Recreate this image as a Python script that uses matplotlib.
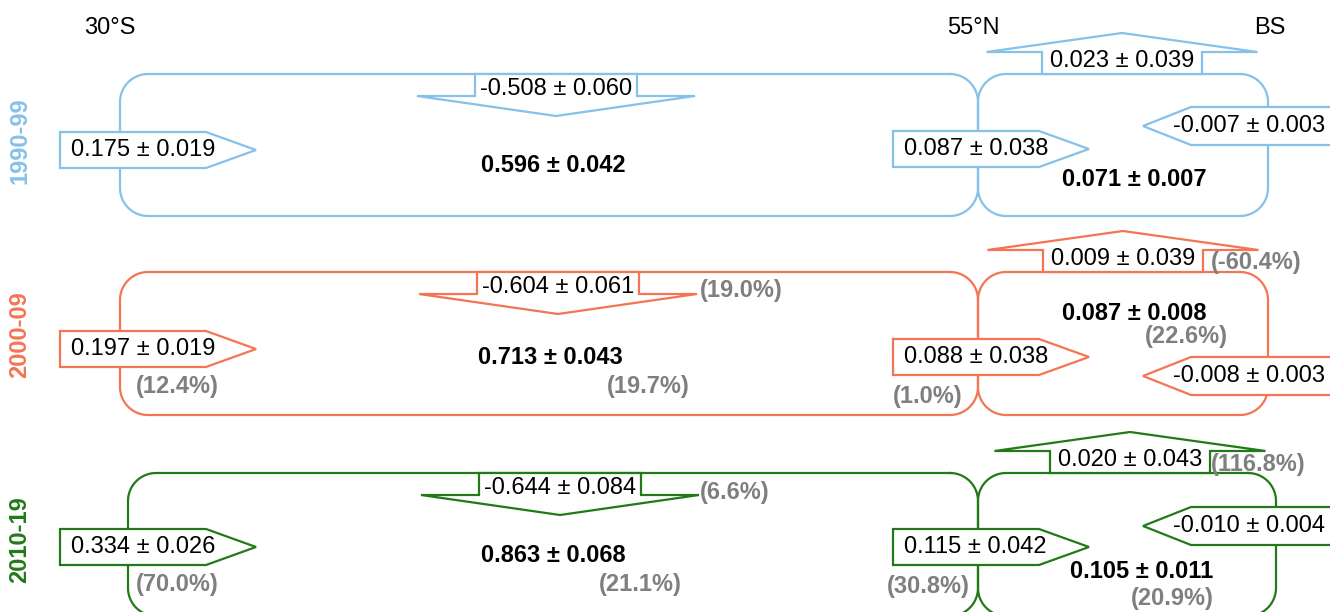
import numpy as np
import matplotlib.pyplot as plt
from matplotlib.patches import Polygon

plt.rcParams['font.family'] = ['Liberation Sans', 'DejaVu Sans']

# ---- data (transports, +/- error, % change vs previous decade)
periods = ['1990-99', '2000-09', '2010-19']
colors = ['#85c1e9', '#f47453', '#217a17']

flux_30s = [0.175, 0.197, 0.334]
flux_30s_err = [0.019, 0.019, 0.026]
surf_south = [-0.508, -0.604, -0.644]
surf_south_err = [0.060, 0.061, 0.084]
store_south = [0.596, 0.713, 0.863]
store_south_err = [0.042, 0.043, 0.068]
flux_55n = [0.087, 0.088, 0.115]
flux_55n_err = [0.038, 0.038, 0.042]
surf_north = [0.023, 0.009, 0.020]
surf_north_err = [0.039, 0.039, 0.043]
flux_bs = [-0.007, -0.008, -0.010]
flux_bs_err = [0.003, 0.003, 0.004]
store_north = [0.071, 0.087, 0.105]
store_north_err = [0.007, 0.008, 0.011]

pct_30s = [None, 12.4, 70.0]
pct_surf_south = [None, 19.0, 6.6]
pct_store_south = [None, 19.7, 21.1]
pct_55n = [None, 1.0, 30.8]
pct_surf_north = [None, -60.4, 116.8]
pct_store_north = [None, 22.6, 20.9]

# ---- layout (pixel coords, y down)
box_top = [74, 272, 473]
box_h = [142, 143, 143]
left_x = [120, 120, 128]
right_x = [1268, 1268, 1276]
mid_x = 978
y_30s = [150, 349, 547]
y_55n = [149, 357, 547]
y_bs = [126, 376, 526]
down_x = [556, 558, 560]
up_x = [1122, 1123, 1130]
south_lbl = [(553, 166), (550, 358), (553, 556)]
north_lbl = [(1134, 180), (1134, 313), (1142, 572)]
north_pct = [None, (1186, 337), (1172, 599)]
south_pct = [None, (648, 386), (640, 585)]
row_lbl_y = [141, 335, 540]

FS = 17
GRAY = '#7f7f7f'
LW = 1.6
R = 28

fig = plt.figure(figsize=(13.3, 6.12), dpi=100)
ax = fig.add_axes([0, 0, 1, 1])
ax.set_xlim(0, 1330)
ax.set_ylim(612, 0)
ax.axis('off')


def fmt(v, e):
    return f'{v:.3f} \u00b1 {e:.3f}'


def rounded_box(x0, y0, x1, y1, c, r=R):
    # polyline with sampled arcs (y down)
    th = np.linspace(0, np.pi / 2, 20)
    xs, ys = [], []
    corners = [(x1 - r, y0 + r, -np.pi / 2), (x1 - r, y1 - r, 0),
               (x0 + r, y1 - r, np.pi / 2), (x0 + r, y0 + r, np.pi)]
    for cx, cy, a0 in corners:
        xs += list(cx + r * np.cos(a0 + th))
        ys += list(cy + r * np.sin(a0 + th))
    xs.append(xs[0])
    ys.append(ys[0])
    ax.plot(xs, ys, color=c, lw=LW, zorder=2, clip_on=False,
            solid_joinstyle='round')


def right_arrow(x0, yc, c, w=146, tip=50, h=36):
    pts = [(x0, yc - h / 2), (x0 + w, yc - h / 2), (x0 + w + tip, yc),
           (x0 + w, yc + h / 2), (x0, yc + h / 2)]
    ax.add_patch(Polygon(pts, closed=True, fc='white', ec=c, lw=LW, zorder=3))


def left_arrow(xt, yc, c, tip=48, h=38):
    pts = [(xt, yc), (xt + tip, yc - h / 2), (1345, yc - h / 2),
           (1345, yc + h / 2), (xt + tip, yc + h / 2)]
    ax.add_patch(Polygon(pts, closed=True, fc='white', ec=c, lw=LW, zorder=3,
                         clip_on=False))


def vert_arrow(xc, ybase, c, sign, stem_w=162, wing_w=278, stem_h=22, tip_h=20):
    # sign=+1 -> downward, -1 -> upward
    s = stem_w / 2
    wg = wing_w / 2
    y1 = ybase + sign * stem_h
    y2 = y1 + sign * tip_h
    pts = [(xc - s, ybase), (xc - s, y1), (xc - wg, y1), (xc, y2),
           (xc + wg, y1), (xc + s, y1), (xc + s, ybase)]
    ax.add_patch(Polygon(pts, closed=True, fc='white', ec=c, lw=LW, zorder=3))


for i, c in enumerate(colors):
    t = box_top[i]
    # boxes
    rounded_box(left_x[i], t, mid_x, t + box_h[i], c)
    rounded_box(mid_x, t, right_x[i], t + box_h[i], c)
    # row label
    ax.text(20, row_lbl_y[i], periods[i], rotation=90, color=c, fontsize=FS,
            fontweight='bold', ha='center', va='center')

    # 30S inflow
    right_arrow(60, y_30s[i], c)
    ax.text(71, y_30s[i], fmt(flux_30s[i], flux_30s_err[i]), fontsize=FS,
            va='center', ha='left', zorder=4)
    # surface flux south
    vert_arrow(down_x[i], t, c, +1)
    ax.text(down_x[i], t + 15, fmt(surf_south[i], surf_south_err[i]),
            fontsize=FS, ha='center', va='center', zorder=4)
    # storage south
    ax.text(*south_lbl[i], fmt(store_south[i], store_south_err[i]),
            fontsize=FS, fontweight='bold', ha='center', va='center')
    # 55N
    right_arrow(893, y_55n[i], c)
    ax.text(904, y_55n[i], fmt(flux_55n[i], flux_55n_err[i]), fontsize=FS,
            va='center', ha='left', zorder=4)
    # surface flux north
    vert_arrow(up_x[i], t, c, -1, stem_w=160, wing_w=271, tip_h=19)
    ax.text(up_x[i], t - 13, fmt(surf_north[i], surf_north_err[i]),
            fontsize=FS, ha='center', va='center', zorder=4)
    # Bering Strait
    left_arrow(1143, y_bs[i], c)
    ax.text(1173, y_bs[i], fmt(flux_bs[i], flux_bs_err[i]), fontsize=FS,
            va='center', ha='left', zorder=4)
    # storage north
    ax.text(*north_lbl[i], fmt(store_north[i], store_north_err[i]),
            fontsize=FS, fontweight='bold', ha='center', va='center')

    # percentage changes
    if pct_30s[i] is not None:
        kw = dict(fontsize=FS, fontweight='bold', color=GRAY, va='center', zorder=5)
        ax.text(177, y_30s[i] + 37, f'({pct_30s[i]:.1f}%)', ha='center', **kw)
        ax.text(700, t + 19, f'({pct_surf_south[i]:.1f}%)', ha='left', **kw)
        ax.text(*south_pct[i], f'({pct_store_south[i]:.1f}%)', ha='center', **kw)
        ax.text(928, y_55n[i] + 39, f'({pct_55n[i]:.1f}%)', ha='center', **kw)
        ax.text(1211, t - 9, f'({pct_surf_north[i]:.1f}%)', ha='left', **kw)
        ax.text(*north_pct[i], f'({pct_store_north[i]:.1f}%)', ha='center', **kw)

# section labels
for x, s in [(110, '30\u00b0S'), (973, '55\u00b0N'), (1270, 'BS')]:
    ax.text(x, 28, s, fontsize=FS, ha='center', va='center')

fig.savefig('out.png', dpi=100)
